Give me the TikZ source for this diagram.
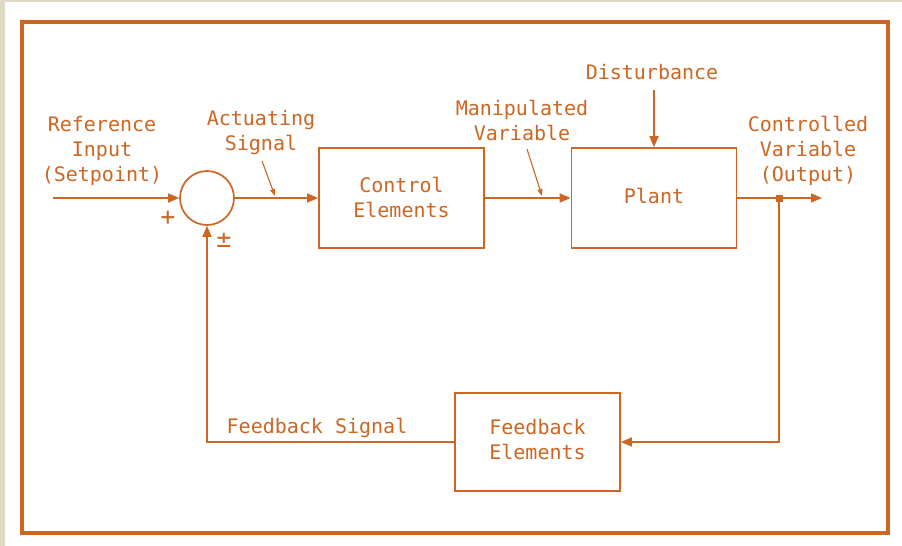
\documentclass[tikz,border=0pt]{standalone}
\usepackage{fontspec}
\setmonofont{DejaVu Sans Mono}
\usetikzlibrary{arrows.meta}
\definecolor{rust}{RGB}{204,102,34}
\definecolor{paper}{RGB}{224,218,196}
\begin{document}
\begin{tikzpicture}[x=1pt,y=-1pt,
  line width=1.7pt, draw=rust,
  txt/.style={text=rust, font=\ttfamily\fontsize{20}{25}\selectfont, align=center, inner sep=0pt},
  signtxt/.style={text=rust, font=\ttfamily\fontsize{25}{25}\selectfont, inner sep=0pt},
  blockbox/.style={draw=rust, line width=1.7pt, minimum width=165pt, minimum height=100pt, inner sep=0pt},
  sig/.style={draw=rust, -{Triangle[length=11pt,width=9pt]}},
  lead/.style={draw=rust, line width=1.1pt, -{Triangle[length=7pt,width=5pt]}},
  sumcirc/.style={circle, draw=rust, line width=1.7pt, minimum size=54pt, inner sep=0pt}]

% page and frame
\fill[paper] (0,0) rectangle (902,546);
\fill[white] (5,2) rectangle (902,546);
\useasboundingbox (0,0) rectangle (902,546);
\draw[rust, line width=4pt] (21.5,22) rectangle (888,533);

% blocks
\node[sumcirc] (sum) at (207,198) {};
\node[blockbox] (ctrl) at (401.5,198) {};
\node[txt] at (401.5,197) {Control\\Elements};
\node[blockbox] (plant) at (654,198) {};
\node[txt] at (654,196) {Plant};
\node[blockbox, minimum height=98pt] (fb) at (537.5,442) {};
\node[txt] at (537.5,440) {Feedback\\Elements};

% helper points
\coordinate (in) at (53,198);
\coordinate (out) at (822,198);
\coordinate (tap) at (779,198);
\coordinate (dist) at (654,90);
\coordinate (fbcorner) at (779,442);
\coordinate (retcorner) at (207,442);

% forward path
\draw[sig] (in) -- (sum.west);
\draw[sig] (sum.east) -- (ctrl.west);
\draw[sig] (ctrl.east) -- (plant.west);
\draw[sig] (plant.east) -- (out);
\draw[sig] (dist) -- (plant.north);

% feedback path
\draw[sig] (tap) -- (fbcorner) -- (fb.east);
\draw[sig] (fb.west) -- (retcorner) -- (sum.south);
\fill[rust] ([xshift=-3.5pt,yshift=-3.5pt]tap) rectangle ([xshift=3.5pt,yshift=3.5pt]tap);

% labels
\node[txt] (reflbl) at (102,151) {Reference\\Input\\(Setpoint)};
\node[txt] (actlbl) at (261,133) {Actuating\\Signal};
\node[txt] (manlbl) at (522,120) {Manipulated\\Variable};
\node[txt] (distlbl) at (652,72) {Disturbance};
\node[txt] (outlbl) at (808,151) {Controlled\\Variable\\(Output)};
\node[txt] (fblbl) at (317,428) {Feedback Signal};
\node[signtxt] (plus) at (168,218) {+};
\node[signtxt] (pm) at (224,240) {±};

% leaders to the signal lines
\coordinate (actfoot) at (275,196);
\coordinate (manfoot) at (542,196);
\draw[lead] (262,161) -- (actfoot);
\draw[lead] (527,149) -- (manfoot);
\end{tikzpicture}
\end{document}
